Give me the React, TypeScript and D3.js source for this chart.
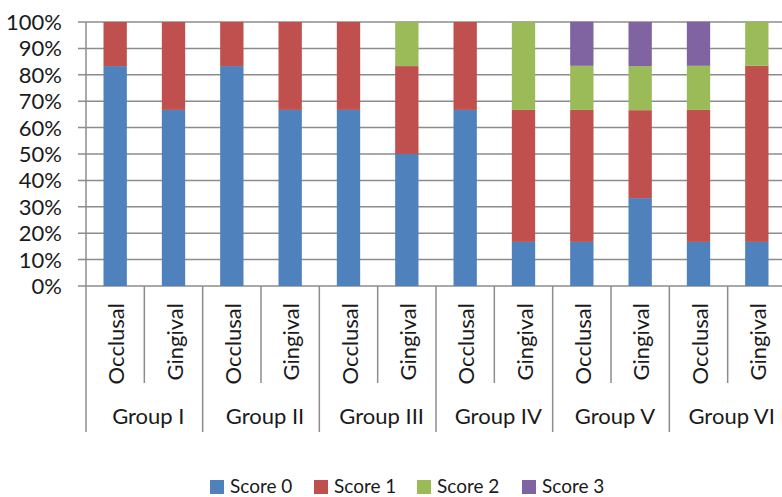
import React, { useEffect, useRef } from 'react';
import * as d3 from 'd3';

const groups = ['Group I', 'Group II', 'Group III', 'Group IV', 'Group V', 'Group VI'];
const sites = ['Occlusal', 'Gingival'];
const seriesNames = ['Score 0', 'Score 1', 'Score 2', 'Score 3'];
const seriesColors = ['#4F81BD', '#C0504D', '#9BBB59', '#8064A2'];

// one entry per bar, in order G1 Occlusal, G1 Gingival, G2 Occlusal ...
const score0 = [83.3, 66.7, 83.3, 66.7, 66.7, 50, 66.7, 16.7, 16.7, 33.3, 16.7, 16.7];
const score1 = [16.7, 33.3, 16.7, 33.3, 33.3, 33.3, 33.3, 50, 50, 33.3, 50, 66.7];
const score2 = [0, 0, 0, 0, 0, 16.7, 0, 33.3, 16.7, 16.7, 16.7, 16.7];
const score3 = [0, 0, 0, 0, 0, 0, 0, 0, 16.7, 16.7, 16.7, 0];

const yTicks = [0, 10, 20, 30, 40, 50, 60, 70, 80, 90, 100];

const App: React.FC = () => {
  const svgRef = useRef<SVGSVGElement>(null);

  useEffect(() => {
    if (!svgRef.current) return;
    const width = 782;
    const height = 497;
    const left = 86;
    const right = 786;
    const top = 22;
    const bottom = 286;
    const font = 'Lato, sans-serif';
    const textColor = '#1a1a1a';
    const gridColor = '#8c8c8c';

    const svg = d3.select(svgRef.current)
      .attr('width', width)
      .attr('height', height)
      .html('');

    const series = [score0, score1, score2, score3];
    const rows = score0.map((_, i) => {
      const row: Record<string, number | string> = {
        id: `${groups[Math.floor(i / 2)]}|${sites[i % 2]}`,
      };
      seriesNames.forEach((s, k) => { row[s] = series[k][i]; });
      return row;
    });
    const ids = rows.map(r => r.id as string);

    const x = d3.scaleBand<string>()
      .domain(ids)
      .range([left, right])
      .paddingInner(0.6)
      .paddingOuter(0.3);
    const step = x.step();

    const y = d3.scaleLinear().domain([0, 100]).range([bottom, top]);

    // gridlines
    svg.append('g')
      .selectAll('line')
      .data(yTicks)
      .join('line')
      .attr('x1', left - 8)
      .attr('x2', width)
      .attr('y1', d => y(d))
      .attr('y2', d => y(d))
      .attr('stroke', gridColor)
      .attr('stroke-width', 1.5);

    // y labels
    svg.append('g')
      .selectAll('text')
      .data(yTicks)
      .join('text')
      .attr('x', 62)
      .attr('y', d => y(d))
      .attr('dy', '0.36em')
      .attr('text-anchor', 'end')
      .style('font-family', font)
      .style('font-size', '22px')
      .attr('fill', textColor)
      .text(d => `${d}%`);

    // bars
    const stacked = d3.stack<Record<string, number | string>>()
      .keys(seriesNames)
      .value((d, key) => d[key] as number)(rows);

    svg.append('g')
      .selectAll('g')
      .data(stacked)
      .join('g')
      .attr('fill', (_, i) => seriesColors[i])
      .selectAll('rect')
      .data(d => d)
      .join('rect')
      .attr('x', d => x(d.data.id as string)!)
      .attr('width', x.bandwidth())
      .attr('y', d => y(d[1]))
      .attr('height', d => y(d[0]) - y(d[1]));

    // axis line
    svg.append('line')
      .attr('x1', left).attr('x2', left)
      .attr('y1', top).attr('y2', 432)
      .attr('stroke', gridColor).attr('stroke-width', 1.5);

    // category dividers
    const dividers = d3.range(1, ids.length);
    svg.append('g')
      .selectAll('line')
      .data(dividers)
      .join('line')
      .attr('x1', d => left + d * step)
      .attr('x2', d => left + d * step)
      .attr('y1', bottom)
      .attr('y2', d => (d % 2 === 0 ? 432 : 383))
      .attr('stroke', gridColor)
      .attr('stroke-width', 1.5);

    // rotated site labels
    svg.append('g')
      .selectAll('text')
      .data(ids)
      .join('text')
      .attr('transform', d => `translate(${x(d)! + x.bandwidth() / 2 + 9},303) rotate(-90)`)
      .attr('text-anchor', 'end')
      .style('font-family', font)
      .style('font-size', '22px')
      .attr('fill', textColor)
      .text(d => d.split('|')[1]);

    // group labels
    svg.append('g')
      .selectAll('text')
      .data(groups)
      .join('text')
      .attr('x', (_, i) => left + (i * 2 + 1) * step + 4)
      .attr('y', 424)
      .attr('text-anchor', 'middle')
      .style('font-family', font)
      .style('font-size', '22px')
      .attr('fill', textColor)
      .text(d => d);

    // legend
    const legendX = [210, 314, 417, 522];
    const legend = svg.append('g')
      .selectAll('g')
      .data(seriesNames)
      .join('g')
      .attr('transform', (_, i) => `translate(${legendX[i]},487)`);
    legend.append('rect')
      .attr('x', 0).attr('y', -7)
      .attr('width', 14).attr('height', 14)
      .attr('fill', (_, i) => seriesColors[i]);
    legend.append('text')
      .attr('x', 20)
      .attr('y', -1)
      .attr('dy', '0.36em')
      .style('font-family', font)
      .style('font-size', '19px')
      .attr('fill', textColor)
      .text(d => d);
  }, []);

  return (
    <svg ref={svgRef} style={{ position: 'absolute', left: 0, top: 0 }}></svg>
  );
};

export default App;
